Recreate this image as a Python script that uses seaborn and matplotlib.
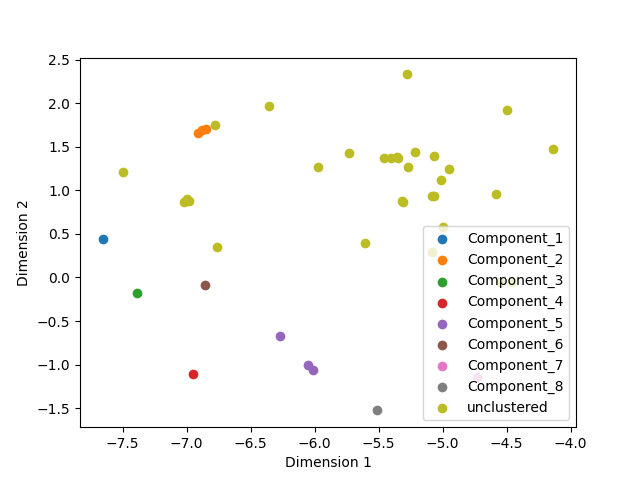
import matplotlib
matplotlib.use("Agg")
import matplotlib.pyplot as plt
import seaborn as sns
import pandas as pd

# Component points
comp_labels = ["Component_1", "Component_2", "Component_2", "Component_2",
               "Component_3", "Component_4", "Component_5", "Component_5",
               "Component_5", "Component_6", "Component_7", "Component_8"]
comp_x = [-7.656, -6.91, -6.88, -6.85, -7.385, -6.95, -6.273, -6.052,
          -6.016, -6.854, -4.731, -5.513]
comp_y = [0.44, 1.66, 1.69, 1.70, -0.18, -1.108, -0.675, -1.008,
          -1.058, -0.089, -1.146, -1.525]

# Unclustered points
unc_x = [-7.50, -7.02, -7.00, -6.98, -6.78, -6.76, -6.36, -5.97, -5.73, -5.61,
         -5.46, -5.40, -5.36, -5.35, -5.32, -5.31, -5.28, -5.27, -5.22, -5.08,
         -5.07, -5.07, -5.08, -5.01, -5.00, -4.95, -4.58, -4.55, -4.46, -4.50,
         -4.135]
unc_y = [1.21, 0.87, 0.90, 0.88, 1.75, 0.35, 1.97, 1.27, 1.43, 0.40,
         1.37, 1.37, 1.38, 1.37, 0.88, 0.87, 2.33, 1.27, 1.44, 0.93,
         0.94, 1.39, 0.29, 1.12, 0.58, 1.24, 0.96, -0.05, -0.05, 1.92,
         1.475]

order = [f"Component_{i}" for i in range(1, 9)] + ["unclustered"]

df = pd.DataFrame({
    "x": comp_x + unc_x,
    "y": comp_y + unc_y,
    "group": comp_labels + ["unclustered"] * len(unc_x),
})

fig, ax = plt.subplots(figsize=(6.4, 4.8), dpi=100)
palette = dict(zip(order, sns.color_palette("tab10", len(order))))
for g in order:
    sub = df[df["group"] == g]
    sns.scatterplot(data=sub, x="x", y="y", color=palette[g], s=49,
                    linewidth=0, ax=ax, label=g, legend=False)

ax.set_xlabel("Dimension 1")
ax.set_ylabel("Dimension 2")
ax.legend(loc="lower right")
fig.savefig("out.png", dpi=100)
